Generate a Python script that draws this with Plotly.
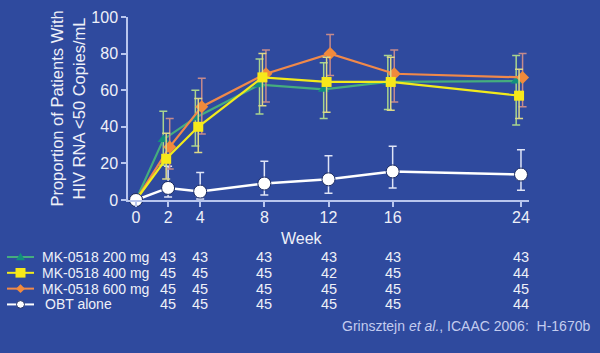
import plotly.graph_objects as go

# ---------------- data ----------------
weeks = [0, 2, 4, 8, 12, 16, 24]
tick_labels = ["0", "2", "4", "8", "12", "16", "24"]

series_names = ["MK-0518 200 mg", "MK-0518 400 mg", "MK-0518 600 mg", "OBT alone"]

mk200 = [0, 33, 45, 63, 60.5, 64.5, 65]
mk200_hi = [0, 48.5, 60, 77, 75, 79, 79]
mk200_lo = [0, 19, 29.5, 47, 44.5, 49.5, 41]

mk400 = [0, 22.5, 40, 67, 64.5, 64.5, 57]
mk400_hi = [0, 36.5, 55.5, 80, 78, 78, 71.5]
mk400_lo = [0, 11.5, 26, 51.5, 48, 49, 44.5]

mk600 = [0, 29, 51, 69, 80, 69, 67]
mk600_hi = [0, 44.5, 66.5, 82, 90.5, 82, 80]
mk600_lo = [0, 17, 36, 53.5, 68, 53.5, 51]

obt = [0, 6.6, 4.6, 9, 11.3, 15.6, 13.9]
obt_hi = [0, 18.5, 15, 21.2, 24.2, 29.4, 27.5]
obt_lo = [0, 1.7, 0.5, 2.7, 3.7, 6.6, 5.3]

n_mk200 = ["43", "43", "43", "43", "43", "43"]
n_mk400 = ["45", "45", "45", "42", "45", "44"]
n_mk600 = ["45", "45", "45", "45", "45", "45"]
n_obt = ["45", "45", "45", "45", "45", "44"]
n_weeks = [2, 4, 8, 12, 16, 24]

citation = "Grinsztejn <i>et al.</i>, ICAAC 2006:  H-1670b"

# ---------------- style ----------------
BG = "#2f4a9e"
TXT = "#eef0f8"
AXC = "#b9c6ee"
FONT = "Liberation Sans, Arial, sans-serif"

W, H = 600, 353
L, R, T, B = 128, 71, 9, 153

styles = [
    dict(line="#45ad7e", marker="#128f7e", err="#a9d48e", symbol="triangle-up", size=10, dx=-0.3),
    dict(line="#f2ea1c", marker="#f7e81a", err="#dcd888", symbol="square", size=10, dx=-0.12),
    dict(line="#f0894a", marker="#f18a3c", err="#c58a8c", symbol="diamond", size=10, dx=0.1),
]

fig = go.Figure()

# OBT alone (drawn first)
fig.add_trace(go.Scatter(
    x=weeks, y=obt, mode="lines+markers", name=series_names[3],
    line=dict(color="white", width=2.5),
    marker=dict(symbol="circle", size=13, color="white", line=dict(color="#1a2a60", width=1)),
    error_y=dict(type="data", symmetric=False,
                 array=[h - v for h, v in zip(obt_hi, obt)],
                 arrayminus=[v - l for v, l in zip(obt, obt_lo)],
                 color="#dfe4f6", thickness=1.5, width=4),
    cliponaxis=False, showlegend=False))

data_sets = [(mk200, mk200_hi, mk200_lo), (mk400, mk400_hi, mk400_lo), (mk600, mk600_hi, mk600_lo)]
order = [0, 2, 1]
for i in order:
    vals, hi, lo = data_sets[i]
    st = styles[i]
    xs = [w + (st["dx"] if w > 0 else 0) for w in weeks]
    fig.add_trace(go.Scatter(
        x=xs, y=vals, mode="lines+markers", name=series_names[i],
        line=dict(color=st["line"], width=2.2),
        marker=dict(symbol=st["symbol"], size=st["size"], color=st["marker"]),
        error_y=dict(type="data", symmetric=False,
                     array=[h - v for h, v in zip(hi, vals)],
                     arrayminus=[v - l for v, l in zip(vals, lo)],
                     color=st["err"], thickness=1.5, width=4),
        cliponaxis=False, showlegend=False))

# redraw OBT origin marker on top
fig.add_trace(go.Scatter(x=[weeks[0]], y=[obt[0]], mode="markers",
                         marker=dict(symbol="circle", size=13, color="white",
                                     line=dict(color="#1a2a60", width=1)),
                         cliponaxis=False, showlegend=False, hoverinfo="skip"))

# ---------------- helpers for table/legend ----------------
ph = H - T - B
pw = W - L - R


def py2paper(py):
    return (H - B - py) / ph


def px2paper(px):
    return (px - L) / pw


row_py = [259.5, 276, 292.5, 309]
counts = [n_mk200, n_mk400, n_mk600, n_obt]
ann = []
for r, (name, cnt) in enumerate(zip(series_names, counts)):
    ann.append(dict(x=px2paper(41 if r < 3 else 44), y=py2paper(row_py[r]), xref="paper", yref="paper",
                    text=name, showarrow=False, xanchor="left", yanchor="middle", borderpad=0,
                    font=dict(family=FONT, size=14, color=TXT)))
    for wk, c in zip(n_weeks, cnt):
        ann.append(dict(x=wk, y=py2paper(row_py[r]), xref="x", yref="paper",
                        text=c, showarrow=False, xanchor="center", yanchor="middle", borderpad=0,
                        font=dict(family=FONT, size=14.5, color=TXT)))

ann.append(dict(x=px2paper(302), y=py2paper(240), xref="paper", yref="paper",
                text="Week", showarrow=False, xanchor="center", yanchor="middle",
                font=dict(family=FONT, size=16, color=TXT)))
ann.append(dict(x=px2paper(592), y=py2paper(332), xref="paper", yref="paper",
                text=citation, showarrow=False, xanchor="right", yanchor="middle",
                font=dict(family=FONT, size=14, color="#c3ccef")))

# legend glyphs (lines + symbols) as shapes in paper space
shapes = []
leg_line_cols = [styles[0]["line"], styles[1]["line"], styles[2]["line"], "white"]
for r in range(4):
    shapes.append(dict(type="line", xref="paper", yref="paper",
                       x0=px2paper(7), x1=px2paper(34), y0=py2paper(row_py[r]), y1=py2paper(row_py[r]),
                       line=dict(color=leg_line_cols[r], width=2)))


def pth(points):
    return "M " + " L ".join(f"{px2paper(x):.5f},{py2paper(y):.5f}" for x, y in points) + " Z"


cx = 20.5
y0 = row_py[0]
shapes.append(dict(type="path", xref="paper", yref="paper",
                   path=pth([(cx - 4.5, y0 + 3.5), (cx + 4.5, y0 + 3.5), (cx, y0 - 4.5)]),
                   fillcolor=styles[0]["marker"], line=dict(width=0)))
y1 = row_py[1]
shapes.append(dict(type="rect", xref="paper", yref="paper",
                   x0=px2paper(cx - 5), x1=px2paper(cx + 5), y0=py2paper(y1 + 5), y1=py2paper(y1 - 5),
                   fillcolor=styles[1]["marker"], line=dict(width=0)))
y2 = row_py[2]
shapes.append(dict(type="path", xref="paper", yref="paper",
                   path=pth([(cx - 4.5, y2), (cx, y2 - 4.5), (cx + 4.5, y2), (cx, y2 + 4.5)]),
                   fillcolor=styles[2]["marker"], line=dict(width=0)))
y3 = row_py[3]
shapes.append(dict(type="circle", xref="paper", yref="paper",
                   x0=px2paper(cx - 4), x1=px2paper(cx + 4), y0=py2paper(y3 + 4), y1=py2paper(y3 - 4),
                   fillcolor="white", line=dict(color="#1a2a60", width=1)))

fig.update_layout(
    width=W, height=H,
    margin=dict(l=L, r=R, t=T, b=B),
    paper_bgcolor=BG, plot_bgcolor=BG,
    font=dict(family=FONT, color=TXT),
    showlegend=False,
    annotations=ann,
    shapes=shapes,
    xaxis=dict(range=[-0.5, 24.5], tickvals=weeks, ticktext=tick_labels,
               showgrid=False, zeroline=False, showline=True, linecolor=AXC, linewidth=1.5,
               ticks="outside", tickcolor=AXC, ticklen=5, tickwidth=1.5,
               ticklabelstandoff=-3,
               tickfont=dict(family=FONT, size=16, color=TXT)),
    yaxis=dict(range=[0, 100], tickvals=[0, 20, 40, 60, 80, 100],
               showgrid=False, zeroline=False, showline=True, linecolor=AXC, linewidth=1.5,
               ticks="outside", tickcolor=AXC, ticklen=5, tickwidth=1.5,
               tickfont=dict(family=FONT, size=16, color=TXT),
               title=dict(text="Proportion of Patients With<br>HIV RNA <50 Copies/mL",
                          font=dict(family=FONT, size=16.5, color=TXT), standoff=2)),
)

fig.write_html("out.html")
